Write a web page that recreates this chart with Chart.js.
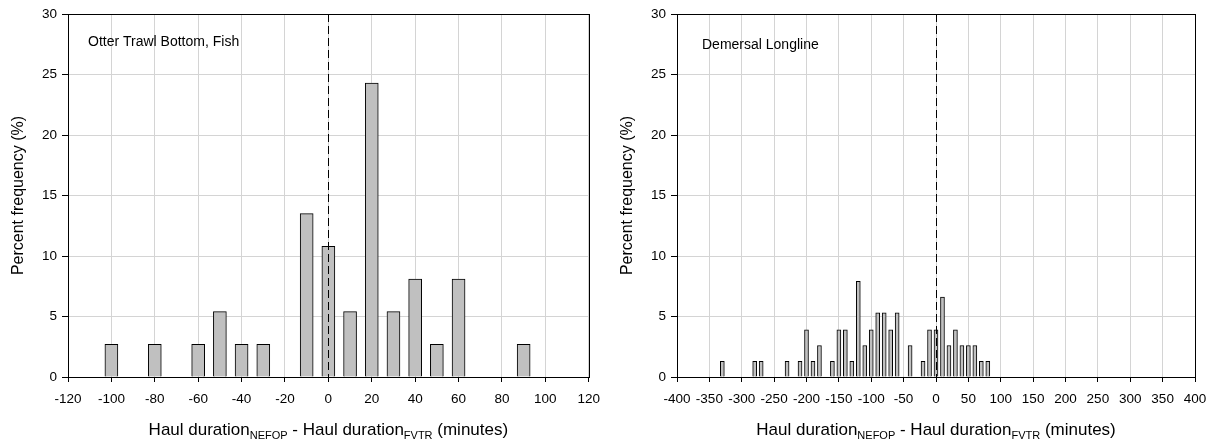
<!DOCTYPE html>
<html lang="en">
<head>
    <meta charset="UTF-8">
    <title>Haul duration differences</title>
    <script src="https://cdn.jsdelivr.net/npm/chart.js"></script>
    <style>
        body { margin: 0; background: #fff; }
        .wrap { position: relative; width: 1218px; height: 447px; }
        canvas { position: absolute; top: 0; }
        #left { left: 0; }
        #right { left: 609px; }
    </style>
</head>
<body>
    <div class="wrap">
        <canvas id="left" width="609" height="447"></canvas>
        <canvas id="right" width="609" height="447"></canvas>
    </div>

    <script>
        // Otter Trawl Bottom, Fish
        const otterBins = [-100, -80, -60, -50, -40, -30, -10, 0, 10, 20, 30, 40, 50, 60, 90];
        const otterPct = [2.7, 2.7, 2.7, 5.4, 2.7, 2.7, 13.5, 10.8, 5.4, 24.3, 5.4, 8.1, 2.7, 8.1, 2.7];

        // Demersal Longline
        const longlineBins = [-330, -280, -270, -230, -210, -200, -190, -180, -160, -150, -140, -130, -120, -110,
            -100, -90, -80, -70, -60, -40, -20, -10, 0, 10, 20, 30, 40, 50, 60, 70, 80];
        const longlinePct = [1.3, 1.3, 1.3, 1.3, 1.3, 3.9, 1.3, 2.6, 1.3, 3.9, 3.9, 1.3, 7.9, 2.6,
            3.9, 5.3, 5.3, 3.9, 5.3, 2.6, 1.3, 3.9, 3.9, 6.6, 2.6, 3.9, 2.6, 2.6, 2.6, 1.3, 1.3];

        const yTicks = [0, 5, 10, 15, 20, 25, 30];
        const FONT = 'Liberation Sans, Arial, sans-serif';

        // frame, zero line, panel label and x title with subscripts
        const framePlugin = {
            id: 'frame',
            afterDatasetsDraw(chart, args, opts) {
                const ctx = chart.ctx;
                const a = chart.chartArea;
                const x = chart.scales.x;
                ctx.save();
                ctx.strokeStyle = '#000';
                ctx.lineWidth = 1;
                const x0 = Math.round(x.getPixelForValue(0)) + 0.5;
                ctx.setLineDash([8, 4]);
                ctx.beginPath();
                ctx.moveTo(x0, a.top);
                ctx.lineTo(x0, a.bottom);
                ctx.stroke();
                ctx.setLineDash([]);
                ctx.strokeRect(Math.round(a.left) + 0.5, Math.round(a.top) + 0.5,
                    Math.round(a.right - a.left), Math.round(a.bottom - a.top));

                ctx.fillStyle = '#000';
                ctx.textBaseline = 'middle';
                ctx.textAlign = 'left';
                ctx.font = '14px ' + FONT;
                ctx.fillText(opts.label, a.left + opts.labelDx, a.top + opts.labelDy);

                // x title
                const parts = [
                    ['Haul duration', false], ['NEFOP', true],
                    [' - Haul duration', false], ['FVTR', true], [' (minutes)', false]
                ];
                const big = '17px ' + FONT, small = '11px ' + FONT;
                let w = 0;
                parts.forEach(p => { ctx.font = p[1] ? small : big; w += ctx.measureText(p[0]).width; });
                let cx = (a.left + a.right) / 2 - w / 2;
                const base = 435;
                ctx.textBaseline = 'alphabetic';
                parts.forEach(p => {
                    ctx.font = p[1] ? small : big;
                    ctx.fillText(p[0], cx, p[1] ? base + 4 : base);
                    cx += ctx.measureText(p[0]).width;
                });
                ctx.restore();
            }
        };

        function makeChart(id, bins, values, xmin, xmax, step, thickness, label, labelDx, labelDy, padRight) {
            const ctx = document.getElementById(id).getContext('2d');
            return new Chart(ctx, {
                type: 'bar',
                data: {
                    datasets: [{
                        data: bins.map((b, i) => ({ x: b, y: values[i] })),
                        backgroundColor: '#c0c0c0',
                        borderColor: '#000',
                        borderWidth: 1,
                        barThickness: thickness
                    }]
                },
                options: {
                    responsive: false,
                    animation: false,
                    devicePixelRatio: 1,
                    layout: { padding: { left: 9, right: padRight, top: 14, bottom: 0 } },
                    plugins: {
                        legend: { display: false },
                        tooltip: { enabled: false },
                        frame: { label: label, labelDx: labelDx, labelDy: labelDy }
                    },
                    scales: {
                        x: {
                            type: 'linear',
                            min: xmin,
                            max: xmax,
                            offset: false,
                            afterFit: s => { s.height = 70; },
                            grid: { offset: false, color: '#d4d4d4', tickColor: '#000', tickLength: 5 },
                            border: { color: '#000', width: 1 },
                            ticks: {
                                stepSize: step,
                                color: '#000',
                                padding: 9,
                                maxRotation: 0,
                                font: { family: FONT, size: 13.5 }
                            }
                        },
                        y: {
                            min: 0,
                            max: 30,
                            afterFit: s => { s.width = 59; },
                            afterBuildTicks: s => { s.ticks = yTicks.map(v => ({ value: v })); },
                            grid: { color: '#d4d4d4', tickColor: '#000', tickLength: 6 },
                            border: { color: '#000', width: 1 },
                            title: {
                                display: true,
                                text: 'Percent frequency (%)',
                                color: '#000',
                                padding: 0,
                                font: { family: FONT, size: 16 }
                            },
                            ticks: {
                                color: '#000',
                                padding: 5,
                                font: { family: FONT, size: 13.5 }
                            }
                        }
                    }
                },
                plugins: [framePlugin]
            });
        }

        makeChart('left', otterBins, otterPct, -120, 120, 20, 13, 'Otter Trawl Bottom, Fish', 20, 28, 20);
        makeChart('right', longlineBins, longlinePct, -400, 400, 50, 4, 'Demersal Longline', 25, 31, 23);
    </script>
</body>
</html>
